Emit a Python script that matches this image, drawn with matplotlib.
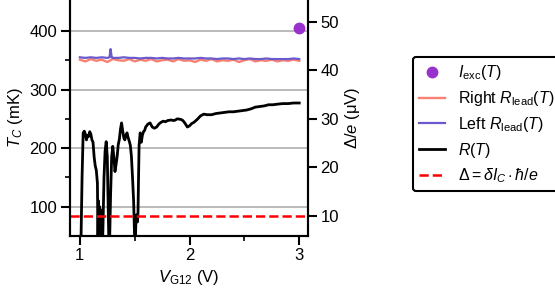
import numpy as np
import matplotlib
matplotlib.use('Agg')
import matplotlib.pyplot as plt
from matplotlib.lines import Line2D

plt.rcParams['font.family'] = ['Liberation Sans', 'DejaVu Sans']
plt.rcParams['font.size'] = 12
plt.rcParams['mathtext.fontset'] = 'custom'
plt.rcParams['mathtext.rm'] = 'Liberation Sans'
plt.rcParams['mathtext.it'] = 'Liberation Sans:italic'
plt.rcParams['mathtext.bf'] = 'Liberation Sans:bold'

# Right lead R(T) transition temperature (mK)
vg_right = [1.00, 1.05, 1.10, 1.15, 1.20, 1.25, 1.30, 1.35, 1.40, 1.45,
            1.50, 1.55, 1.60, 1.65, 1.70, 1.75, 1.80, 1.85, 1.90, 1.95,
            2.00, 2.05, 2.10, 2.15, 2.20, 2.25, 2.30, 2.35, 2.40, 2.45,
            2.50, 2.55, 2.60, 2.65, 2.70, 2.75, 2.80, 2.85, 2.90, 2.95, 3.00]
tc_right = [351, 348, 352, 349, 351, 347, 352, 350, 349, 352,
            348, 351, 349, 352, 348, 350, 351, 348, 352, 349,
            350, 347, 351, 349, 352, 348, 350, 349, 351, 347,
            350, 352, 348, 350, 349, 351, 348, 350, 349, 351, 349]

# Left lead R(T) transition temperature (mK)
vg_left = [1.00, 1.05, 1.10, 1.15, 1.20, 1.25, 1.27, 1.28, 1.29, 1.30,
           1.35, 1.40, 1.45, 1.50, 1.55, 1.60, 1.65, 1.70, 1.75, 1.80,
           1.85, 1.90, 1.95, 2.00, 2.05, 2.10, 2.15, 2.20, 2.25, 2.30,
           2.35, 2.40, 2.45, 2.50, 2.55, 2.60, 2.65, 2.70, 2.75, 2.80,
           2.85, 2.90, 2.95, 3.00]
tc_left = [355, 354, 355, 354, 355, 354, 355, 369, 355, 354,
           354, 355, 354, 354, 353, 354, 354, 353, 354, 353,
           353, 354, 353, 353, 353, 354, 353, 353, 352, 353,
           353, 352, 353, 352, 353, 352, 352, 353, 352, 352,
           352, 352, 353, 352]

# junction R(T) (mK)
vg_junc = [1.00, 1.01, 1.02, 1.03, 1.04, 1.05, 1.06, 1.07, 1.08, 1.09,
           1.10, 1.11, 1.12, 1.13, 1.14, 1.15, 1.16, 1.165, 1.17, 1.175,
           1.18, 1.185, 1.19, 1.195, 1.20, 1.205, 1.21, 1.22, 1.23, 1.24,
           1.25, 1.26, 1.265, 1.27, 1.28, 1.29, 1.30, 1.31, 1.32, 1.33,
           1.34, 1.35, 1.36, 1.37, 1.38, 1.39, 1.40, 1.41, 1.42, 1.43,
           1.44, 1.45, 1.46, 1.47, 1.48, 1.49, 1.50, 1.505, 1.51, 1.515,
           1.52, 1.525, 1.53, 1.535, 1.54, 1.55, 1.56, 1.57, 1.58, 1.59,
           1.60, 1.62, 1.64, 1.66, 1.68, 1.70, 1.72, 1.74, 1.76, 1.78,
           1.80, 1.83, 1.86, 1.89, 1.92, 1.94, 1.96, 1.98, 2.00, 2.02,
           2.04, 2.07, 2.10, 2.13, 2.16, 2.20, 2.24, 2.28, 2.32, 2.36,
           2.40, 2.44, 2.48, 2.52, 2.56, 2.60, 2.64, 2.68, 2.72, 2.76,
           2.80, 2.85, 2.90, 2.95, 3.00]
tc_junc = [20, 40, 150, 226, 229, 224, 214, 222, 220, 228,
           224, 214, 210, 185, 170, 162, 140, 40, 110, 30,
           100, 30, 95, 30, 80, 30, 60, 150, 195, 211,
           185, 80, 30, 30, 120, 185, 203, 185, 160, 172,
           186, 206, 215, 232, 243, 230, 218, 214, 222, 226,
           218, 212, 205, 186, 150, 110, 40, 30, 70, 86,
           80, 74, 90, 150, 205, 226, 210, 222, 228, 230,
           236, 241, 243, 236, 234, 236, 241, 244, 246, 245,
           247, 248, 247, 250, 249, 247, 242, 236, 238, 242,
           244, 249, 255, 258, 257, 257, 259, 260, 261, 262,
           262, 263, 264, 265, 267, 270, 271, 272, 274, 274,
           275, 276, 276, 277, 277]

# gap values (uV)
vg_exc = [3.0]
gap_exc = [48.6]
gap_dIc = 10.0

fig = plt.figure(figsize=(5.55, 2.93), dpi=100)
ax = fig.add_axes([70/555, 1 - 236/293, 238/555, 236/293])
ax2 = ax.twinx()

ax.grid(axis='y', color='#bbbbbb', linewidth=1.4)
ax.set_axisbelow(True)
ax.plot(vg_right, tc_right, color='salmon', lw=1.7)
ax.plot(vg_left, tc_left, color='#6a5acd', lw=1.6)
ax.plot(vg_junc, tc_junc, color='black', lw=2.0)

ax2.axhline(gap_dIc, color='red', lw=1.8, ls='--')
ax2.plot(vg_exc, gap_exc, 'o', color='#9932cc', ms=7.5)

ax.set_xlim(0.91, 3.08)
ax.set_ylim(50, 452.8)
ax2.set_ylim(5.88, 54.46)
ax.set_xticks([1, 2, 3])
ax.set_xticks([1.5, 2.5], minor=True)
ax.set_yticks([100, 200, 300, 400])
ax.set_yticks([150, 250, 350], minor=True)
ax2.set_yticks([10, 20, 30, 40, 50])

for a in (ax, ax2):
    a.spines['top'].set_visible(False)
    for s in ('left', 'right', 'bottom'):
        a.spines[s].set_linewidth(1.5)
    a.tick_params(which='major', width=1.5, length=6.5, pad=2.5)
    a.tick_params(which='minor', width=1.2, length=3.5)

ax.set_xlabel(r'$V_{\rm G12}$ (V)', labelpad=3)
ax.set_ylabel(r'$T_C$ (mK)', labelpad=3)
ax2.set_ylabel(r'$\Delta/e$ (μV)', labelpad=3)

handles = [
    Line2D([], [], marker='o', ls='none', color='#9932cc', ms=7.5),
    Line2D([], [], color='salmon', lw=1.7),
    Line2D([], [], color='#6a5acd', lw=1.6),
    Line2D([], [], color='black', lw=2.0),
    Line2D([], [], color='red', lw=1.8, ls='--'),
]
labels = [r'$I_{\rm exc}(T)$', r'Right $R_{\rm lead}(T)$', r'Left $R_{\rm lead}(T)$',
          r'$R(T)$', r'$\Delta = \delta I_C \cdot \hbar/e$']
leg = fig.legend(handles, labels, loc='upper left',
                 bbox_to_anchor=(413/555, 1 - 57/293), borderaxespad=0,
                 frameon=True, fancybox=True, framealpha=1, edgecolor='black',
                 handlelength=1.6, fontsize=11.5, labelspacing=0.42)
leg.get_frame().set_linewidth(1.5)

fig.savefig('out.png', dpi=100)
